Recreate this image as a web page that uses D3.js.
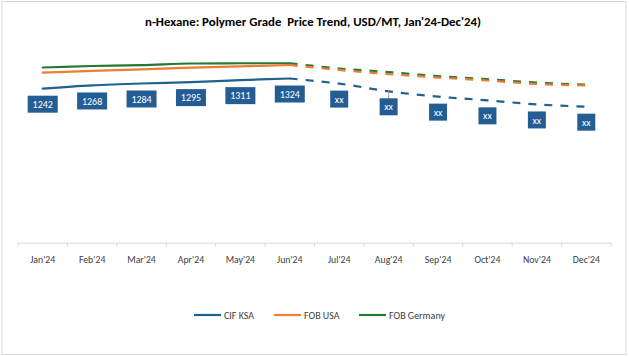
<!DOCTYPE html>
<html><head><meta charset="utf-8">
<script src="https://cdn.jsdelivr.net/npm/d3@7"></script>
<style>body{margin:0;background:#fff}svg{display:block}</style>
</head><body><svg id="c" width="629" height="356"></svg>
<script>
const months = ["Jan'24","Feb'24","Mar'24","Apr'24","May'24","Jun'24","Jul'24","Aug'24","Sep'24","Oct'24","Nov'24","Dec'24"];
const cifKSA    = [1242,1268,1284,1295,1311,1324,1283,1221,1178,1148,1115,1097];
const fobUSA    = [1371,1385,1398,1412,1422,1433,1393,1360,1332,1308,1280,1268];
const fobGermany= [1413,1425,1432,1445,1447,1447,1405,1376,1343,1319,1291,1274];
const cifLabels = ["1242","1268","1284","1295","1311","1324","xx","xx","xx","xx","xx","xx"];
const seriesNames = ["CIF KSA","FOB USA","FOB Germany"];
const actualCount = 6;

const svg = d3.select("#c");
const font = "Calibri, Carlito, 'Liberation Sans', Arial, sans-serif";
svg.append("rect").attr("x",2).attr("y",1.5).attr("width",624).attr("height",353)
  .attr("fill","#fff").attr("stroke","#d9d9d9").attr("stroke-width",1);

svg.append("text").attr("x",313).attr("y",26).attr("text-anchor","middle")
  .attr("font-family",font).attr("font-weight","bold").attr("font-size",12)
  .attr("fill","#000").attr("textLength",336).attr("lengthAdjust","spacingAndGlyphs")
  .style("white-space","pre")
  .text("n-Hexane: Polymer Grade  Price Trend, USD/MT, Jan'24-Dec'24)");

const x = d3.scaleBand().domain(months).range([18,611]);
const y = d3.scaleLinear().domain([0,1600]).range([242.7,44.3]);
const cx = m => x(m) + x.bandwidth()/2;

const gx = svg.append("g").attr("transform","translate(0,242.7)")
  .call(d3.axisBottom(x).tickSize(0).tickPadding(13));
gx.select(".domain").attr("stroke","#d9d9d9");
gx.selectAll("text").attr("font-family",font).attr("font-size",9.8).attr("fill","#404040");
const bounds = months.map(m => x(m)).concat([x(months[months.length-1]) + x.bandwidth()]);
gx.selectAll(".bt").data(bounds).enter().append("line")
  .attr("x1",d=>d).attr("x2",d=>d).attr("y1",0).attr("y2",4).attr("stroke","#d9d9d9");

const colors = ["#1f628f","#ed7d31","#237a34"];
const data = [cifKSA, fobUSA, fobGermany];
const line = d3.line().x(d=>cx(d.m)).y(d=>y(d.v)).curve(d3.curveCatmullRom.alpha(0.5));

[2,1,0].forEach(i => {
  const pts = data[i].map((v,j)=>({m:months[j],v}));
  svg.append("path").attr("d", line(pts.slice(0,actualCount)))
    .attr("fill","none").attr("stroke",colors[i]).attr("stroke-width",2.2).attr("stroke-linecap","round");
  svg.append("path").attr("d", line(pts.slice(actualCount-1)))
    .attr("fill","none").attr("stroke",colors[i]).attr("stroke-width",2.2).attr("stroke-dasharray","8,8");
});

const lbl = svg.append("g");
cifKSA.forEach((v,j) => {
  const t = cifLabels[j];
  const w = t.length > 2 ? 30 : 18, h = 17;
  const px = cx(months[j]), py = y(v);
  const ccy = py + 15.5;
  if (j === 7) {
    lbl.append("line").attr("x1",px).attr("x2",px).attr("y1",py).attr("y2",ccy - h/2)
      .attr("stroke","#a6a6a6").attr("stroke-width",1);
  }
  lbl.append("rect").attr("x",px - w/2).attr("y",ccy - h/2).attr("width",w).attr("height",h).attr("fill","#245d93");
  lbl.append("text").attr("x",px).attr("y",ccy + 3.6).attr("text-anchor","middle")
    .attr("font-family",font).attr("font-size",10).attr("fill","#fff").text(t);
});

const legX = [194, 274, 359];
seriesNames.forEach((n,i) => {
  const g = svg.append("g").attr("transform",`translate(${legX[i]},315)`);
  g.append("line").attr("x1",0).attr("x2",27).attr("stroke",colors[i]).attr("stroke-width",2.2);
  g.append("text").attr("x",30).attr("y",3.5).attr("font-family",font).attr("font-size",10)
    .attr("fill","#404040").text(n);
});
</script></body></html>
